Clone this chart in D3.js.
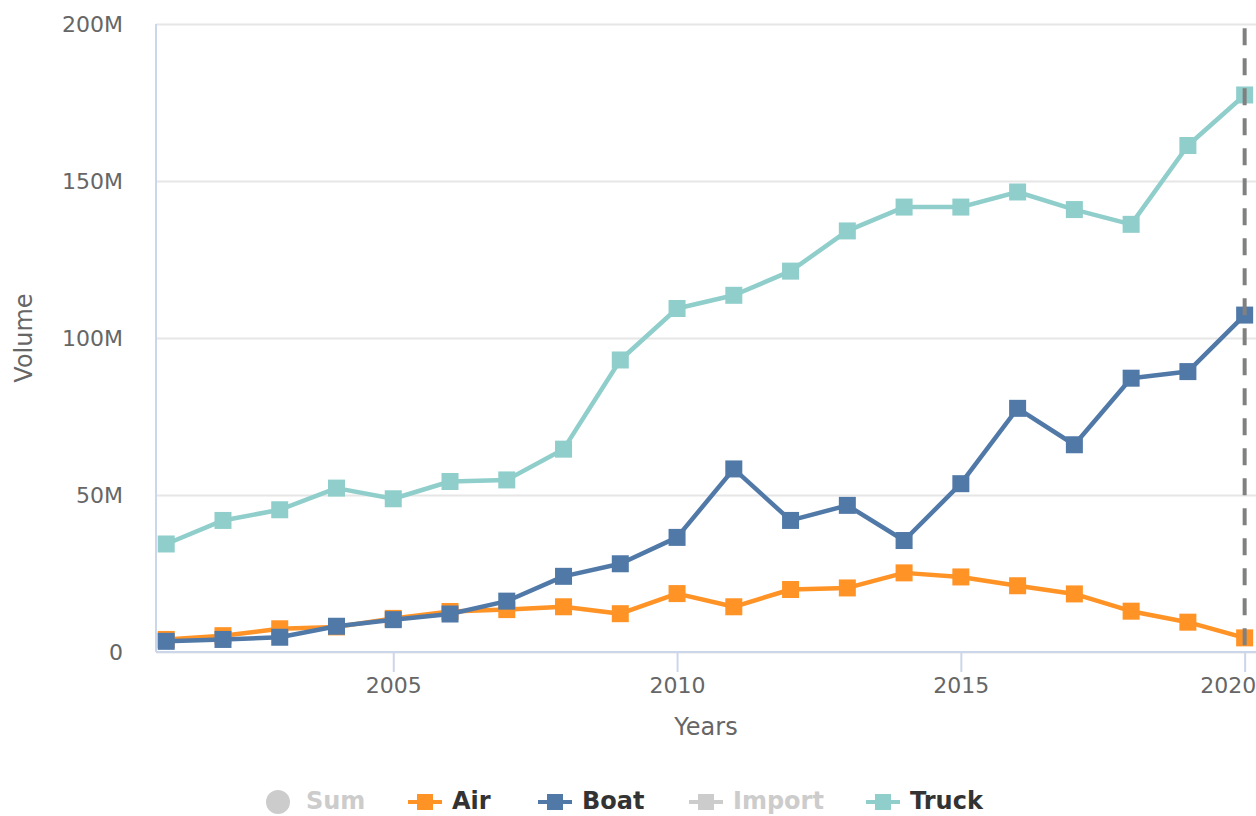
<!DOCTYPE html>
<html>
<head>
	<meta charset="utf-8">
	<title>Volume by transport</title>
	<script src="https://d3js.org/d3.v7.min.js"></script>
	<style>
		body { margin: 0; background: #fff; }
		svg { display: block; }
		text { font-family: "DejaVu Sans", sans-serif; fill: #666666; }
		.grid line { stroke: #e6e6e6; stroke-width: 2; }
		.grid path { display: none; }
		.axis path, .axis line { stroke: #ccd6eb; stroke-width: 2; }
		.axis text { font-size: 22px; fill: #666666; }
		text.title { font-size: 24px; }
		.legend text { font-size: 24px; font-weight: bold; fill: #333333; }
		.legend .off text { fill: #cccccc; }
	</style>
</head>
<body>
	<svg width="1256" height="816"></svg>
<script>
	// data (millions)
	const years = [2001, 2002, 2003, 2004, 2005, 2006, 2007, 2008, 2009, 2010,
	               2011, 2012, 2013, 2014, 2015, 2016, 2017, 2018, 2019, 2020];
	const air   = [4.0, 5.2, 7.4, 8.0, 10.7, 12.9, 13.5, 14.4, 12.2, 18.6,
	               14.4, 19.9, 20.4, 25.2, 23.9, 21.1, 18.5, 13.0, 9.5, 4.5];
	const boat  = [3.4, 4.0, 4.7, 8.2, 10.3, 12.1, 16.2, 24.1, 28.1, 36.5,
	               58.3, 41.9, 46.7, 35.5, 53.6, 77.6, 66.0, 87.2, 89.3, 107.3];
	const truck = [34.4, 41.9, 45.3, 52.2, 48.8, 54.3, 54.8, 64.6, 93.0, 109.4,
	               113.6, 121.3, 134.1, 141.7, 141.7, 146.5, 140.9, 136.2, 161.3, 177.4];
	const yTicks = [0, 50e6, 100e6, 150e6, 200e6];
	const xTicks = [2005, 2010, 2015, 2020];
	const markerYear = 2020;

	const series = [
		{ name: 'Air',   values: air,   color: '#ff9326' },
		{ name: 'Boat',  values: boat,  color: '#5079a8' },
		{ name: 'Truck', values: truck, color: '#8fcecb' }
	];
	const legendItems = [
		{ name: 'Sum',    color: '#cccccc', symbol: 'circle', off: true },
		{ name: 'Air',    color: '#ff9326', symbol: 'line' },
		{ name: 'Boat',   color: '#5079a8', symbol: 'line' },
		{ name: 'Import', color: '#cccccc', symbol: 'line', off: true },
		{ name: 'Truck',  color: '#8fcecb', symbol: 'line' }
	];

	const svg = d3.select('svg');
	const pLeft = 156, pRight = 1256, pTop = 24, pBottom = 652;
	const mk = 17; // marker size

	const x = d3.scaleLinear()
		.domain([2000.82, 2020.2])
		.range([pLeft, pRight]);
	const y = d3.scaleLinear()
		.domain([0, 200e6])
		.range([pBottom, pTop]);

	// grid
	svg.append('g')
		.attr('class', 'grid')
		.attr('transform', `translate(${pLeft},0)`)
		.call(d3.axisLeft(y).tickValues(yTicks).tickSize(-(pRight - pLeft)).tickFormat(''));

	// y axis labels + line
	const yAxis = svg.append('g')
		.attr('class', 'axis')
		.attr('transform', `translate(${pLeft},0)`)
		.call(d3.axisLeft(y).tickValues(yTicks).tickSize(0).tickPadding(33)
			.tickFormat(d => d === 0 ? '0' : (d / 1e6) + 'M'));
	yAxis.select('.domain').remove();
	svg.append('line')
		.attr('x1', pLeft).attr('x2', pLeft)
		.attr('y1', pTop).attr('y2', pBottom)
		.attr('stroke', '#ccd6eb').attr('stroke-width', 2);

	// x axis
	const xAxis = svg.append('g')
		.attr('class', 'axis')
		.attr('transform', `translate(0,${pBottom})`)
		.call(d3.axisBottom(x).tickValues(xTicks).tickSize(20).tickPadding(5).tickFormat(d3.format('d')));
	xAxis.select('.domain').attr('d', `M${pLeft},0H${pRight}`);
	xAxis.selectAll('.tick text')
		.filter(d => d === 2020)
		.attr('text-anchor', 'end')
		.attr('dx', '11');

	svg.append('text')
		.attr('class', 'title')
		.attr('text-anchor', 'middle')
		.attr('x', (pLeft + pRight) / 2)
		.attr('y', 735)
		.text('Years');

	svg.append('text')
		.attr('class', 'title')
		.attr('text-anchor', 'middle')
		.attr('transform', `translate(32,${(pTop + pBottom) / 2}) rotate(-90)`)
		.text('Volume');

	// lines + markers
	const line = d3.line()
		.x((d, i) => x(years[i]))
		.y(d => y(d * 1e6));

	series.forEach(s => {
		const g = svg.append('g');
		g.append('path')
			.datum(s.values)
			.attr('fill', 'none')
			.attr('stroke', s.color)
			.attr('stroke-width', 4.5)
			.attr('stroke-linejoin', 'round')
			.attr('d', line);
		g.selectAll('rect')
			.data(s.values)
			.enter()
			.append('rect')
			.attr('x', (d, i) => x(years[i]) - mk / 2)
			.attr('y', d => y(d * 1e6) - mk / 2)
			.attr('width', mk)
			.attr('height', mk)
			.attr('fill', s.color);
	});

	// dashed marker line
	svg.append('line')
		.attr('x1', x(markerYear)).attr('x2', x(markerYear))
		.attr('y1', pTop).attr('y2', pBottom)
		.attr('stroke', '#808080')
		.attr('stroke-width', 4)
		.attr('stroke-dasharray', '17 13')
		.attr('stroke-dashoffset', 25.7);

	// legend
	const legendX = [278, 425, 555, 706, 883];
	const legend = svg.append('g').attr('class', 'legend');
	legendItems.forEach((item, i) => {
		const g = legend.append('g')
			.attr('class', item.off ? 'off' : null)
			.attr('transform', `translate(${legendX[i]},802)`);
		if (item.symbol === 'circle') {
			g.append('circle').attr('r', 12).attr('fill', item.color);
			g.append('text').attr('x', 28).attr('y', 7).text(item.name);
		} else {
			g.append('line')
				.attr('x1', -17).attr('x2', 17)
				.attr('stroke', item.color).attr('stroke-width', 4);
			g.append('rect')
				.attr('x', -8).attr('y', -8).attr('width', 16).attr('height', 16)
				.attr('fill', item.color);
			g.append('text').attr('x', 27).attr('y', 7).text(item.name);
		}
	});
</script>
</body>
</html>
